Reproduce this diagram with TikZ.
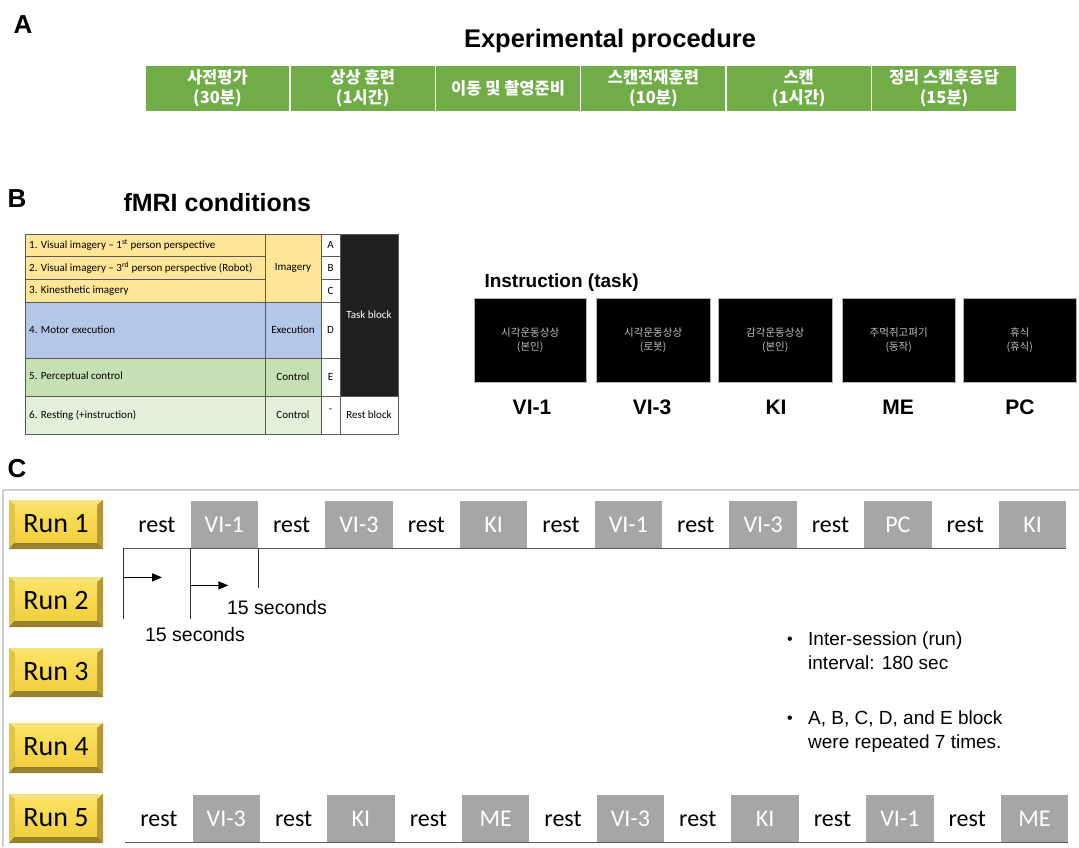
\documentclass[tikz,border=0pt]{standalone}
\usepackage{fontspec}
\setmainfont{Liberation Sans}
\newfontfamily\calfont{Carlito}
\newfontfamily\krfont{Noto Sans CJK KR}
\usetikzlibrary{arrows.meta}
\definecolor{grn}{HTML}{70AD47}
\definecolor{ylw}{HTML}{FFE699}
\definecolor{blu}{HTML}{B4C7E7}
\definecolor{gre}{HTML}{C5E0B4}
\definecolor{lgr}{HTML}{E2F0D9}
\definecolor{gry}{HTML}{A6A6A6}
\definecolor{tline}{HTML}{595959}
\definecolor{frame}{HTML}{D0D0D0}
\definecolor{bevtop}{HTML}{F8E27A}
\definecolor{bevleft}{HTML}{E6C443}
\definecolor{bevright}{HTML}{B3973A}
\definecolor{bevbot}{HTML}{97802E}
\definecolor{facetop}{HTML}{FBE262}
\definecolor{facebot}{HTML}{F2CF3E}
\tikzset{
  lbl/.style={font=\bfseries\fontsize{26}{26}\selectfont},
  greencell/.style={fill=grn,draw=white,line width=1.5pt,minimum width=145.3pt,minimum height=47pt,inner sep=0pt,anchor=north west,
    text=white,align=center,font=\krfont\bfseries\fontsize{16.5}{20.5}\selectfont},
  tabtxt/.style={font=\calfont\fontsize{11}{12}\selectfont,inner sep=0pt},
  screen/.style={fill=black,draw=gray!60,line width=0.4pt,anchor=north west,minimum height=84pt,inner sep=0pt,
    text=white!75!black,align=center,font=\krfont\fontsize{10.5}{13.5}\selectfont},
  scrlbl/.style={font=\bfseries\fontsize{21}{21}\selectfont},
  cellbase/.style={minimum width=67.36pt,minimum height=47pt,inner sep=0pt,anchor=north west,font=\calfont\fontsize{24}{24}\selectfont},
  c1/.style={cellbase,text=black},
  c0/.style={cellbase,fill=gry,text=white},
  btnface/.style={top color=facetop,bottom color=facebot,minimum width=82pt,inner sep=0pt,font=\calfont\fontsize{28}{28}\selectfont},
  arr/.style={line width=1.4pt,-{Triangle[length=10pt,width=8pt]}},
  tick/.style={line width=0.8pt,draw=black!80},
  note/.style={font=\fontsize{19}{24}\selectfont,align=left,inner sep=0pt}
}
\newcommand\runbtn[4]{%
  \fill[bevtop] (9,#2) -- (103,#2) -- (97,{#2+5}) -- (15,{#2+5}) -- cycle;
  \fill[bevleft] (9,#2) -- (15,{#2+5}) -- (15,{#3-7}) -- (9,#3) -- cycle;
  \fill[bevright] (103,#2) -- (103,#3) -- (97,{#3-7}) -- (97,{#2+5}) -- cycle;
  \fill[bevbot] (9,#3) -- (15,{#3-7}) -- (97,{#3-7}) -- (103,#3) -- cycle;
  \node[btnface,minimum height={#3-#2-12}] (#1) at (56,{(#2+5+#3-7)/2}) {#4};
}
\begin{document}
\begin{tikzpicture}[x=1pt,y=-1pt]
\useasboundingbox[fill=white] (0,0) rectangle (1079,847);

% ---------- A ----------
\node[lbl] (labA) at (23,25) {A};
\node[font=\bfseries\fontsize{25.5}{25.5}\selectfont] (titleA) at (610,41) {Experimental\ procedure};
\foreach \t [count=\i] in {{사전평가\\(30분)},{상상 훈련\\(1시간)},{이동 및 촬영준비},{스캔전재훈련\\(10분)},{스캔\\(1시간)},{정리 스캔후응답\\(15분)}}{
  \node[greencell] (g\i) at ({144+(\i-1)*145.33},64) {\t};
}

% ---------- B ----------
\node[lbl] (labB) at (17,199) {B};
\node[font=\bfseries\fontsize{25}{25}\selectfont,anchor=west] (titleB) at (120,203) {fMRI conditions};

% table fills
\fill[ylw] (25,234) rectangle (321,302);
\fill[blu] (25,302) rectangle (321,358);
\fill[gre] (25,358) rectangle (321,396);
\fill[lgr] (25,396) rectangle (321,434);
\fill[black!88] (340,234) rectangle (398,396);
% table lines
\begin{scope}[draw=tline,line width=0.8pt]
\draw (25,234) rectangle (398,434);
\draw (25,256) -- (265,256) (25,279) -- (265,279);
\draw (321,256) -- (340,256) (321,279) -- (340,279);
\draw (25,302) -- (340,302) (25,358) -- (340,358) (25,396) -- (398,396);
\draw (265,234) -- (265,434) (321,234) -- (321,434) (340,234) -- (340,434);
\end{scope}
% table texts
\node[tabtxt,anchor=west] (r1) at (29,245) {1. Visual imagery – 1\textsuperscript{st} person perspective};
\node[tabtxt,anchor=west] (r2) at (29,268) {2. Visual imagery – 3\textsuperscript{rd} person perspective (Robot)};
\node[tabtxt,anchor=west] (r3) at (29,291) {3. Kinesthetic imagery};
\node[tabtxt,anchor=west] (r4) at (29,330) {4. Motor execution};
\node[tabtxt,anchor=west] (r5) at (29,377) {5. Perceptual control};
\node[tabtxt,anchor=west] (r6) at (29,415) {6. Resting (+instruction)};
\node[tabtxt] (k1) at (293,268) {Imagery};
\node[tabtxt] (k2) at (293,330) {Execution};
\node[tabtxt] (k3) at (293,377) {Control};
\node[tabtxt] (k4) at (293,415) {Control};
\node[tabtxt] (lA) at (330.5,245) {A};
\node[tabtxt] (lB) at (330.5,268) {B};
\node[tabtxt] (lC) at (330.5,291) {C};
\node[tabtxt] (lD) at (330.5,330) {D};
\node[tabtxt] (lE) at (330.5,377) {E};
\node[tabtxt] (lR) at (330.5,411) {-};
\node[tabtxt,text=white] (tb) at (369,315) {Task block};
\node[tabtxt] (rb) at (369,415) {Rest block};

% instruction screens
\node[font=\bfseries\fontsize{19}{19}\selectfont,anchor=west] (instr) at (481,283) {Instruction (task)};
\node[screen,minimum width=112pt] (s1) at (474,298) {시각운동상상\\(본인)};
\node[screen,minimum width=114pt] (s2) at (596,298) {시각운동상상\\(로봇)};
\node[screen,minimum width=114pt] (s3) at (718,298) {감각운동상상\\(본인)};
\node[screen,minimum width=113pt] (s4) at (842,298) {주먹쥐고펴기\\(동작)};
\node[screen,minimum width=113pt] (s5) at (963,298) {휴식\\(휴식)};
\node[scrlbl] (v1) at (532,407) {VI-1};
\node[scrlbl] (v2) at (652,407) {VI-3};
\node[scrlbl] (v3) at (776,407) {KI};
\node[scrlbl] (v4) at (898,407) {ME};
\node[scrlbl] (v5) at (1020,407) {PC};

% ---------- C ----------
\node[lbl] (labC) at (17,469) {C};
\draw[frame,line width=1.5pt] (3,847) -- (3,490) -- (1079,490);

\runbtn{run1}{500}{549}{Run 1}
\runbtn{run2}{577}{627}{Run 2}
\runbtn{run3}{648}{697}{Run 3}
\runbtn{run4}{723}{773}{Run 4}
\runbtn{run5}{794}{843}{Run 5}

% Run 1 timeline
\foreach \t [count=\i] in {rest,VI-1,rest,VI-3,rest,KI,rest,VI-1,rest,VI-3,rest,PC,rest,KI}{
  \pgfmathtruncatemacro\m{mod(\i,2)}
  \node[c\m] (a\i) at ({123+(\i-1)*67.36},501) {\t};
}
\draw[tline,line width=1pt] (a1.south west) -- (a14.south east);

% Run 5 timeline
\foreach \t [count=\i] in {rest,VI-3,rest,KI,rest,ME,rest,VI-3,rest,KI,rest,VI-1,rest,ME}{
  \pgfmathtruncatemacro\m{mod(\i,2)}
  \node[c\m] (e\i) at ({125+(\i-1)*67.36},795) {\t};
}
\draw[tline,line width=1pt] (e1.south west) -- (e14.south east);

% 15 seconds markers
\coordinate (t1) at ([yshift=-71pt]a1.south west);
\coordinate (t2) at ([yshift=-71pt]a2.south west);
\coordinate (t3) at ([yshift=-40pt]a2.south east);
\draw[tick] (a1.south west) -- (t1);
\draw[tick] (a2.south west) -- (t2);
\draw[tick] (a2.south east) -- (t3);
\coordinate (p1s) at ([yshift=-29pt]a1.south west);
\coordinate (p1e) at ([yshift=-29pt,xshift=39pt]a1.south west);
\coordinate (p2s) at ([yshift=-37pt]a2.south west);
\coordinate (p2e) at ([yshift=-37pt,xshift=38pt]a2.south west);
\draw[arr] (p1s) -- (p1e);
\draw[arr] (p2s) -- (p2e);
\node[font=\fontsize{19.5}{19.5}\selectfont] (sec1) at (195,635) {15 seconds};
\node[font=\fontsize{19.5}{19.5}\selectfont] (sec2) at (277,608) {15 seconds};

% notes
\node[font=\fontsize{16}{16}\selectfont] (bul1) at (790,641) {•};
\node[note,anchor=north west] (n1) at (808,632) {Inter-session (run)\\interval: 180 sec};
\node[font=\fontsize{16}{16}\selectfont] (bul2) at (790,720) {•};
\node[note,anchor=north west] (n2) at (808,711) {A, B, C, D, and E block\\were repeated 7 times.};
\end{tikzpicture}
\end{document}
